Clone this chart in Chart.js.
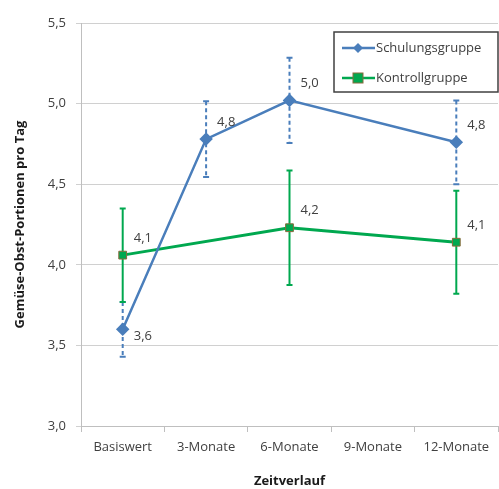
<!DOCTYPE html>
<html>
<head>
<meta charset="utf-8">
<script src="https://cdn.jsdelivr.net/npm/chart.js@4.4.0/dist/chart.umd.min.js"></script>
<style>
  html, body { margin: 0; padding: 0; background: #fff; }
  #wrap { width: 499px; height: 489px; }
</style>
</head>
<body>
<div id="wrap"><canvas id="chart" width="499" height="489"></canvas></div>
<script>
// Werte
const zeitpunkte = ["Basiswert", "3-Monate", "6-Monate", "9-Monate", "12-Monate"];
const schulung = [3.6, 4.78, 5.02, null, 4.76];
const schulungFehler = [0.17, 0.235, 0.265, null, 0.26];
const kontrolle = [4.06, null, 4.23, null, 4.14];
const kontrolleFehler = [0.29, null, 0.355, null, 0.32];
const yTicks = [3.0, 3.5, 4.0, 4.5, 5.0, 5.5];

const BLAU = '#4a7ebb';
const GRUEN = '#00a84f';
const TEXT = '#404040';
const FONT = '"Open Sans", "DejaVu Sans", sans-serif';

const komma = v => v.toFixed(1).replace('.', ',');

// Fehlerbalken (blau gestrichelt, grün durchgezogen)
const fehlerbalken = {
    id: 'fehlerbalken',
    beforeDatasetsDraw(chart) {
        const { ctx, scales: { x, y } } = chart;
        chart.data.datasets.forEach(ds => {
            ctx.save();
            ctx.strokeStyle = ds.borderColor;
            ctx.lineWidth = 2;
            ds.data.forEach((v, i) => {
                const e = ds.fehler[i];
                if (v == null || e == null) return;
                const px = x.getPixelForValue(i);
                const top = y.getPixelForValue(v + e);
                const bot = y.getPixelForValue(v - e);
                ctx.setLineDash(ds.gestrichelt ? [4, 3] : []);
                ctx.beginPath();
                ctx.moveTo(px, top);
                ctx.lineTo(px, bot);
                ctx.stroke();
                ctx.setLineDash([]);
                ctx.beginPath();
                ctx.moveTo(px - 3, top); ctx.lineTo(px + 3, top);
                ctx.moveTo(px - 3, bot); ctx.lineTo(px + 3, bot);
                ctx.stroke();
            });
            ctx.restore();
        });
    }
};

// Datenbeschriftungen + Legende mit Rahmen
const beschriftung = {
    id: 'beschriftung',
    afterDraw(chart) {
        const { ctx, scales: { x, y } } = chart;
        ctx.save();
        ctx.font = '13px ' + FONT;
        ctx.fillStyle = TEXT;
        ctx.textBaseline = 'middle';
        ctx.textAlign = 'left';
        chart.data.datasets.forEach(ds => {
            ds.data.forEach((v, i) => {
                if (v == null) return;
                const px = x.getPixelForValue(i);
                const py = y.getPixelForValue(v);
                const dy = (ds.label === 'Schulungsgruppe' && i === 0) ? 7 : -17;
                ctx.fillText(komma(v), px + 11, py + dy);
            });
        });

        // Legende
        const lx = 334, ly = 32, lw = 164, lh = 60;
        ctx.strokeStyle = '#404040';
        ctx.lineWidth = 1.5;
        ctx.strokeRect(lx, ly, lw, lh);
        chart.data.datasets.forEach((ds, k) => {
            const cy = ly + 16 + k * 30;
            ctx.strokeStyle = ds.borderColor;
            ctx.lineWidth = 2.5;
            ctx.beginPath();
            ctx.moveTo(lx + 8, cy); ctx.lineTo(lx + 41, cy);
            ctx.stroke();
            ctx.fillStyle = ds.pointBackgroundColor;
            ctx.strokeStyle = ds.pointBorderColor;
            ctx.lineWidth = 1;
            const mx = lx + 24;
            if (ds.pointStyle === 'rectRot') {
                ctx.beginPath();
                ctx.moveTo(mx, cy - 5); ctx.lineTo(mx + 5, cy);
                ctx.lineTo(mx, cy + 5); ctx.lineTo(mx - 5, cy);
                ctx.closePath(); ctx.fill();
            } else {
                ctx.fillRect(mx - 5, cy - 5, 10, 10);
                ctx.strokeRect(mx - 5, cy - 5, 10, 10);
            }
            ctx.fillStyle = TEXT;
            ctx.font = '13px ' + FONT;
            ctx.fillText(ds.label, lx + 42, cy);
        });
        ctx.restore();
    }
};

new Chart(document.getElementById('chart'), {
    type: 'line',
    data: {
        labels: zeitpunkte,
        datasets: [
            {
                label: 'Schulungsgruppe',
                data: schulung,
                fehler: schulungFehler,
                gestrichelt: true,
                borderColor: BLAU,
                borderWidth: 2.5,
                pointStyle: 'rectRot',
                pointRadius: 5,
                pointBackgroundColor: BLAU,
                pointBorderColor: BLAU,
                spanGaps: true,
                tension: 0
            },
            {
                label: 'Kontrollgruppe',
                data: kontrolle,
                fehler: kontrolleFehler,
                gestrichelt: false,
                borderColor: GRUEN,
                borderWidth: 3,
                pointStyle: 'rect',
                pointRadius: 5.5,
                pointBackgroundColor: GRUEN,
                pointBorderColor: '#8a6a3c',
                pointBorderWidth: 1,
                spanGaps: true,
                tension: 0
            }
        ]
    },
    options: {
        responsive: false,
        animation: false,
        layout: { autoPadding: false, padding: { top: 23, right: 1, left: 0, bottom: 0 } },
        plugins: { legend: { display: false }, tooltip: { enabled: false } },
        scales: {
            x: {
                offset: true,
                grid: { offset: true, drawOnChartArea: false, drawTicks: true, tickLength: 6, color: '#bfbfbf' },
                border: { color: '#bfbfbf', width: 1 },
                ticks: { color: TEXT, font: { family: FONT, size: 13 }, padding: 7, maxRotation: 0 },
                title: { display: true, text: 'Zeitverlauf', color: '#1a1a1a',
                         font: { family: FONT, size: 13, weight: 'bold' }, padding: { top: 10, bottom: 0 } },
                afterFit(s) { s.height = 63; }
            },
            y: {
                min: 3.0,
                max: 5.5,
                afterBuildTicks(s) { s.ticks = yTicks.map(v => ({ value: v })); },
                grid: { color: '#d0d0d0', tickLength: 5 },
                border: { color: '#bfbfbf', width: 1 },
                ticks: { color: TEXT, font: { family: FONT, size: 13 }, padding: 10, callback: v => komma(v) },
                title: { display: true, text: 'Gemüse-Obst-Portionen pro Tag', color: '#1a1a1a',
                         font: { family: FONT, size: 13, weight: 'bold' }, padding: { top: 12, bottom: 0 } },
                afterFit(s) { s.width = 81; }
            }
        }
    },
    plugins: [fehlerbalken, beschriftung]
});
</script>
</body>
</html>
